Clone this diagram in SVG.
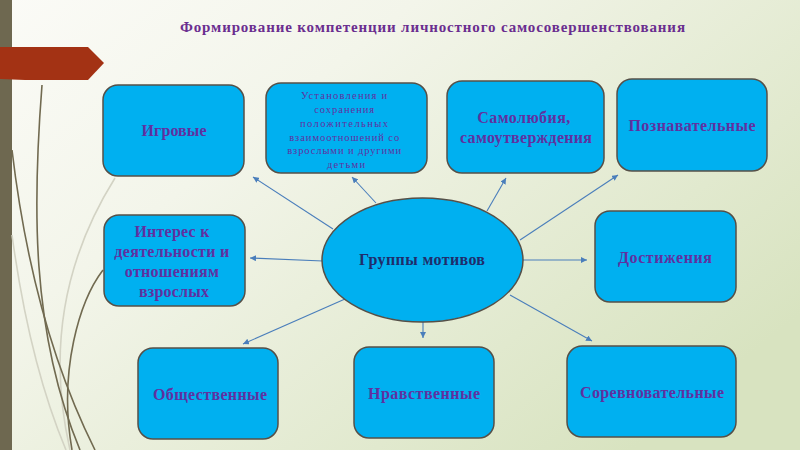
<svg xmlns="http://www.w3.org/2000/svg" width="800" height="450" viewBox="0 0 800 450">
  <defs>
    <linearGradient id="bg" x1="0" y1="0" x2="1" y2="0.7">
      <stop offset="0" stop-color="#fbfbf7"/>
      <stop offset="0.35" stop-color="#f3f5ea"/>
      <stop offset="1" stop-color="#d8e3c0"/>
    </linearGradient>
    <marker id="arr" markerUnits="userSpaceOnUse" markerWidth="7" markerHeight="6" refX="6" refY="3" orient="auto">
      <path d="M0,0 L6,3 L0,6 Z" fill="#4a7ebb"/>
    </marker>
    <style>
      .box { fill: #00b0f0; stroke: #555048; stroke-width: 1.5; }
      .lbl { font-family: "Liberation Serif", "Times New Roman", serif; font-weight: bold; fill: #6030a0; text-anchor: middle; }
      .big { font-size: 16px; }
      .small { font-size: 10.5px; font-weight: normal; }
      .con { stroke: #4a7ebb; stroke-width: 1.1; fill: none; marker-end: url(#arr); }
      .dk { stroke: #716a50; stroke-width: 1.6; fill: none; }
      .lt { stroke: #d3d3c4; stroke-width: 1.6; fill: none; }
    </style>
  </defs>

  <!-- background -->
  <rect x="0" y="0" width="800" height="450" fill="url(#bg)"/>

  <!-- left decoration -->
  <rect x="0" y="0" width="12" height="450" fill="#6e6850"/>
  <path class="lt" d="M115,178 C70,250 45,340 70,450"/>
  <path class="lt" d="M12,235 C25,330 45,400 66,450"/>
  <path class="dk" d="M42,85 C33,200 30,330 80,450"/>
  <path class="dk" d="M12,150 C25,260 50,360 95,450"/>
  <path class="dk" d="M103,270 C80,300 58,370 72,450"/>
  <polygon points="0,47 88,47 104,63 88,80 25,80 0,79" fill="#a33214"/>

  <!-- title -->
  <text x="180" y="32" font-family="Liberation Serif, Times New Roman, serif" font-weight="bold" font-size="15" fill="#6a2d8f" textLength="505" lengthAdjust="spacing">Формирование компетенции личностного самосовершенствования</text>

  <!-- connectors -->
  <g id="connectors">
    <line class="con" x1="333" y1="229" x2="253" y2="177"/>
    <line class="con" x1="376" y1="203" x2="352" y2="177"/>
    <line class="con" x1="487" y1="211" x2="506" y2="178"/>
    <line class="con" x1="520" y1="240" x2="618" y2="175"/>
    <line class="con" x1="323" y1="261" x2="250" y2="258"/>
    <line class="con" x1="523" y1="260" x2="587" y2="260"/>
    <line class="con" x1="345" y1="299" x2="243" y2="344"/>
    <line class="con" x1="423" y1="318" x2="423" y2="338"/>
    <line class="con" x1="510" y1="295" x2="592" y2="341"/>
  </g>

  <!-- center -->
  <g id="center">
    <ellipse cx="422.5" cy="260" rx="100.5" ry="62" class="box"/>
    <text x="422" y="265" class="lbl" font-size="16" style="fill:#1f2d6b" textLength="126" lengthAdjust="spacing">Группы мотивов</text>
  </g>

  <g id="igrovye">
    <rect x="103" y="85" width="141" height="91" rx="15" class="box"/>
    <text x="174" y="136" class="lbl big" textLength="65" lengthAdjust="spacing">Игровые</text>
  </g>

  <g id="ustanovleniya">
    <rect x="266" y="83" width="161" height="90" rx="15" class="box"/>
    <text class="lbl small" x="346">
      <tspan x="346" y="99" textLength="86" lengthAdjust="spacing">Установления и</tspan>
      <tspan x="346" y="113" textLength="60" lengthAdjust="spacing">сохранения</tspan>
      <tspan x="346" y="127" textLength="88" lengthAdjust="spacing">положительных</tspan>
      <tspan x="346" y="141" textLength="110" lengthAdjust="spacing">взаимоотношений со</tspan>
      <tspan x="346" y="154" textLength="114" lengthAdjust="spacing">взрослыми и другими</tspan>
      <tspan x="346" y="168" textLength="38" lengthAdjust="spacing">детьми</tspan>
    </text>
  </g>

  <g id="samolyubiya">
    <rect x="447" y="81" width="157" height="92" rx="15" class="box"/>
    <text class="lbl big">
      <tspan x="526" y="123" textLength="93" lengthAdjust="spacing">Самолюбия,</tspan>
      <tspan x="526" y="143" textLength="132" lengthAdjust="spacing">самоутверждения</tspan>
    </text>
  </g>

  <g id="poznavatelnye">
    <rect x="617" y="79" width="150" height="92" rx="15" class="box"/>
    <text x="692" y="131" class="lbl big" textLength="127" lengthAdjust="spacing">Познавательные</text>
  </g>

  <g id="interes">
    <rect x="104" y="215" width="141" height="91" rx="15" class="box"/>
    <text class="lbl big">
      <tspan x="174" y="237" textLength="75" lengthAdjust="spacing">Интерес к</tspan>
      <tspan x="174" y="257" textLength="115" lengthAdjust="spacing">деятельности и</tspan>
      <tspan x="174" y="277" textLength="94" lengthAdjust="spacing">отношениям</tspan>
      <tspan x="174" y="297" textLength="70" lengthAdjust="spacing">взрослых</tspan>
    </text>
  </g>

  <g id="dostizheniya">
    <rect x="595" y="211" width="141" height="91" rx="15" class="box"/>
    <text x="665" y="263" class="lbl big" textLength="94" lengthAdjust="spacing">Достижения</text>
  </g>

  <g id="obshchestvennye">
    <rect x="138" y="348" width="140" height="91" rx="15" class="box"/>
    <text x="210" y="400" class="lbl big" textLength="114" lengthAdjust="spacing">Общественные</text>
  </g>

  <g id="nravstvennye">
    <rect x="354" y="347" width="140" height="91" rx="15" class="box"/>
    <text x="424" y="399" class="lbl big" textLength="112" lengthAdjust="spacing">Нравственные</text>
  </g>

  <g id="sorevnovatelnye">
    <rect x="567" y="346" width="169" height="91" rx="15" class="box"/>
    <text x="652" y="398" class="lbl big" textLength="144" lengthAdjust="spacing">Соревновательные</text>
  </g>
</svg>
